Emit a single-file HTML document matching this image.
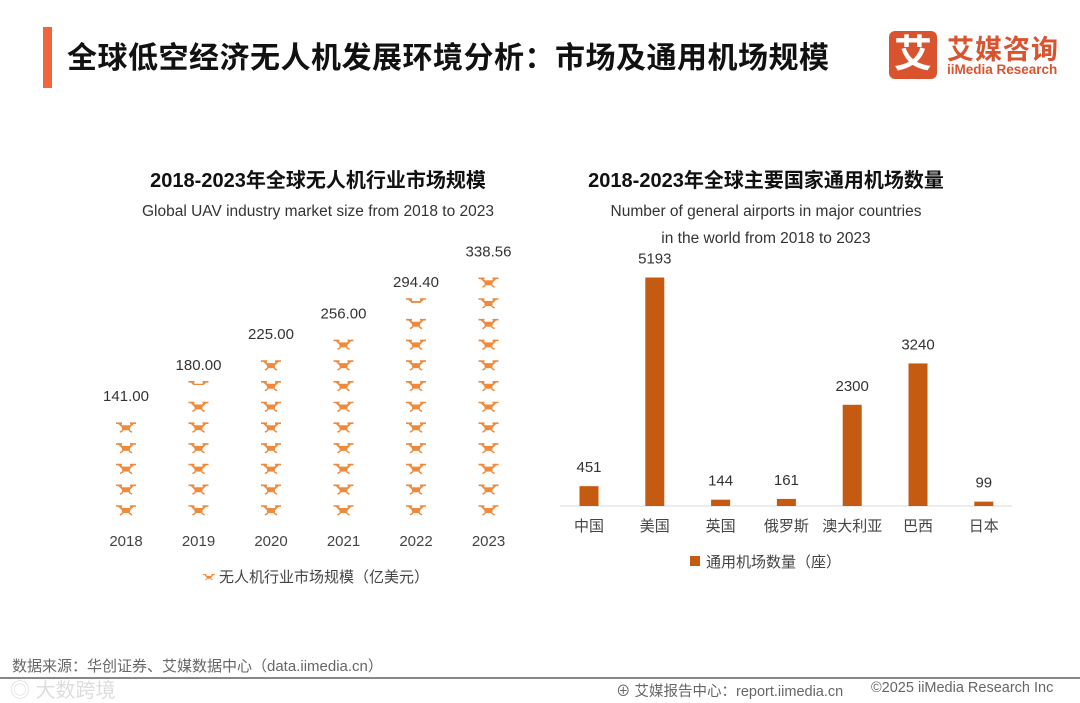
<!DOCTYPE html>
<html><head><meta charset="utf-8"><style>
body{margin:0;width:1080px;height:702px;background:#fff;overflow:hidden;font-family:"Liberation Sans","Noto Sans CJK SC",sans-serif;position:relative}
.abs{position:absolute;white-space:nowrap}
</style></head><body>
<div class="abs" style="left:43px;top:27px;width:9px;height:61px;background:#f0653a"></div>
<div class="abs" style="left:67px;top:33px;font-size:30px;font-weight:bold;color:#111;letter-spacing:0.5px">全球低空经济无人机发展环境分析：市场及通用机场规模</div>
<div class="abs" style="left:889px;top:31px;width:175px;height:50px">
 <div style="position:absolute;left:0;top:0;width:48px;height:48px;background:#d9532e;border-radius:6px;color:#fff;font-size:38px;font-weight:bold;text-align:center;line-height:48px">艾</div>
 <div style="position:absolute;left:58px;top:-3px;font-size:27px;font-weight:bold;color:#d9532e;letter-spacing:1px">艾媒咨询</div>
 <div style="position:absolute;left:58px;top:31px;font-size:13.5px;font-weight:bold;color:#d9532e">iiMedia Research</div>
</div>
<svg class="abs" style="left:0;top:0" width="1080" height="702">
<defs>
<g id="drone">
 <path d="M-10,-4 H-4 M4,-4 H10" stroke="#ef8a3c" stroke-width="1.6"/>
 <path d="M-7,-4 L-3,0 M7,-4 L3,0" stroke="#ef8a3c" stroke-width="2"/>
 <rect x="-4" y="-2" width="8" height="5" rx="1.5" fill="#ef8a3c"/>
 <path d="M-3,3 L-6,5 M3,3 L6,5" stroke="#ef8a3c" stroke-width="1.5"/>
</g>
</defs>
<g id="left" font-family="Liberation Sans, Noto Sans CJK SC, sans-serif"></g>
<g id="right" font-family="Liberation Sans, Noto Sans CJK SC, sans-serif"></g>
<text x="318" y="187" text-anchor="middle" font-size="20" font-weight="bold" fill="#111">2018-2023年全球无人机行业市场规模</text>
<text x="318" y="216" text-anchor="middle" font-size="15.5" fill="#333">Global UAV industry market size from 2018 to 2023</text>
<text x="766" y="187" text-anchor="middle" font-size="20" font-weight="bold" fill="#111">2018-2023年全球主要国家通用机场数量</text>
<text x="766" y="216" text-anchor="middle" font-size="15.5" fill="#333">Number of general airports in major countries</text>
<text x="766" y="243" text-anchor="middle" font-size="15.5" fill="#333">in the world from 2018 to 2023</text>
<g transform="translate(209 577) scale(0.6)"><use href="#drone"/></g>
<text x="219" y="582" font-size="15" fill="#444">无人机行业市场规模（亿美元）</text>
<rect x="690" y="556" width="10" height="10" fill="#c55a11"/>
<text x="706" y="567" font-size="15" fill="#444">通用机场数量（座）</text>
<line x1="0" y1="678" x2="1080" y2="678" stroke="#888" stroke-width="2"/>
</svg>
<div class="abs" style="left:12px;top:655px;font-size:15px;color:#666">数据来源：华创证券、艾媒数据中心（data.iimedia.cn）</div>
<div class="abs" style="left:10px;top:674px;font-size:20px;color:#ddd">◎ 大数跨境</div>
<div class="abs" style="left:616px;top:680px;font-size:14.5px;color:#666">⊕ 艾媒报告中心：report.iimedia.cn</div>
<div class="abs" style="left:871px;top:680px;font-size:14.5px;color:#666">©2025  iiMedia Research Inc</div>
<script>
const years=["2018","2019","2020","2021","2022","2023"];
const marketSize=[141.00,180.00,225.00,256.00,294.40,338.56];
const countries=["中国","美国","英国","俄罗斯","澳大利亚","巴西","日本"];
const airports=[451,5193,144,161,2300,3240,99];
const NS="http://www.w3.org/2000/svg";
function mk(tag,attrs,parent){const e=document.createElementNS(NS,tag);for(const k in attrs)e.setAttribute(k,attrs[k]);parent.appendChild(e);return e;}
const L=document.getElementById('left');
const unit=28.2, rowH=20.7, baseY=510;
const xL=i=>126+i*72.5;
years.forEach((y,i)=>{
 const n=marketSize[i]/unit;
 const full=Math.floor(n+0.05), frac=n-full;
 for(let k=0;k<full;k++){
  const g=mk('g',{transform:'translate('+xL(i)+' '+(baseY-k*rowH)+')'},L);
  
  
  mk('use',{href:'#drone'},g);
 }
 let labelY=baseY-(full-1)*rowH-26;
 if(frac>0.1){
  const cy=baseY-full*rowH;
  const cp=mk('clipPath',{id:'cp'+i},L);
  mk('rect',{x:-12,y:-5,width:24,height:Math.max(2,11*frac)},cp);
  const g=mk('g',{transform:'translate('+xL(i)+' '+cy+')'},L);
  
  
  mk('use',{href:'#drone','clip-path':'url(#cp'+i+')'},g);
  labelY=cy-16;
 }
 const t=mk('text',{x:xL(i),y:labelY,'text-anchor':'middle','font-size':15,fill:'#333'},L);
 t.textContent=marketSize[i].toFixed(2);
 
 
 const c=mk('text',{x:xL(i),y:546,'text-anchor':'middle','font-size':15,fill:'#444'},L);
 c.textContent=y;
 
 
});
const R=document.getElementById('right');
const base=506, scale=228.5/5193;
const xR=i=>589+i*65.8;
const ax=mk('line',{x1:560,y1:base,x2:1012,y2:base,stroke:'#d9d9d9','stroke-width':1},R);


countries.forEach((c,i)=>{
 const h=airports[i]*scale;
 const b=mk('rect',{x:xR(i)-9.5,y:base-h,width:19,height:h,fill:'#c55a11'},R);
 
 
 const t=mk('text',{x:xR(i),y:base-h-14,'text-anchor':'middle','font-size':15,fill:'#333'},R);
 t.textContent=airports[i];
 
 
 const l=mk('text',{x:xR(i),y:531,'text-anchor':'middle','font-size':15,fill:'#444'},R);
 l.textContent=c;
 
 
});
</script>
</body></html>
